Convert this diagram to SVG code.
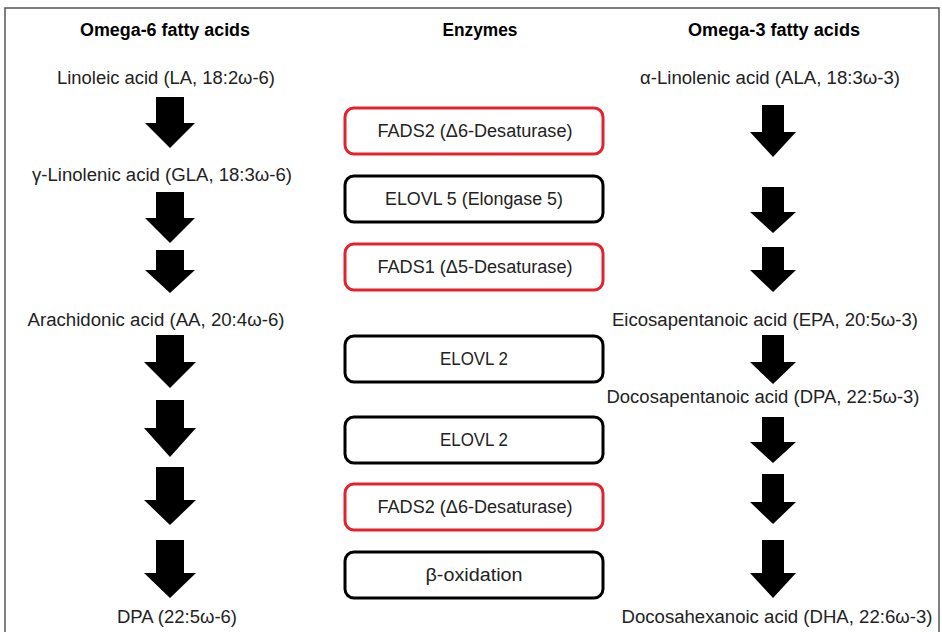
<svg xmlns="http://www.w3.org/2000/svg" width="942" height="632" viewBox="0 0 942 632">
<style>
text{font-family:"Liberation Sans",Arial,sans-serif;fill:#222;text-anchor:middle;font-size:18px}
.h{font-weight:bold;fill:#000;font-size:17.5px}
.box{fill:#fff;stroke-width:3}
.red{stroke:#e3232b}
.blk{stroke:#000}
.arr{fill:#000}
</style>
<rect x="0" y="0" width="942" height="632" fill="#fff"/>
<rect x="5" y="8" width="934" height="640" fill="none" stroke="#555" stroke-width="1.5"/>
<g id="headers">
<text class="h" x="165" y="36" textLength="170" lengthAdjust="spacingAndGlyphs">Omega-6 fatty acids</text>
<text class="h" x="480" y="36" textLength="75" lengthAdjust="spacingAndGlyphs">Enzymes</text>
<text class="h" x="774" y="36" textLength="172" lengthAdjust="spacingAndGlyphs">Omega-3 fatty acids</text>
</g>
<g id="omega6">
<g id="la"><text x="166" y="84" textLength="218" lengthAdjust="spacingAndGlyphs">Linoleic acid (LA, 18:2ω-6)</text></g>
<g id="gla"><text x="162" y="181" textLength="260" lengthAdjust="spacingAndGlyphs">γ-Linolenic acid (GLA, 18:3ω-6)</text></g>
<g id="aa"><text x="156" y="326" textLength="257" lengthAdjust="spacingAndGlyphs">Arachidonic acid (AA, 20:4ω-6)</text></g>
<g id="dpa6"><text x="177" y="623" textLength="120" lengthAdjust="spacingAndGlyphs">DPA (22:5ω-6)</text></g>
</g>
<g id="omega3">
<g id="ala"><text x="770" y="84" textLength="260" lengthAdjust="spacingAndGlyphs">α-Linolenic acid (ALA, 18:3ω-3)</text></g>
<g id="epa"><text x="765" y="326" textLength="306" lengthAdjust="spacingAndGlyphs">Eicosapentanoic acid (EPA, 20:5ω-3)</text></g>
<g id="dpa3"><text x="763" y="403" textLength="313" lengthAdjust="spacingAndGlyphs">Docosapentanoic acid (DPA, 22:5ω-3)</text></g>
<g id="dha"><text x="777" y="623" textLength="311" lengthAdjust="spacingAndGlyphs">Docosahexanoic acid (DHA, 22:6ω-3)</text></g>
</g>
<g id="enzymes">
<g id="e1"><rect class="box red" x="345" y="108" width="258" height="46" rx="9"/><text x="475" y="137" textLength="195" lengthAdjust="spacingAndGlyphs">FADS2 (Δ6-Desaturase)</text></g>
<g id="e2"><rect class="box blk" x="345" y="176" width="258" height="46" rx="9"/><text x="474" y="205" textLength="178" lengthAdjust="spacingAndGlyphs">ELOVL 5 (Elongase 5)</text></g>
<g id="e3"><rect class="box red" x="345" y="244" width="258" height="46" rx="9"/><text x="475" y="273" textLength="195" lengthAdjust="spacingAndGlyphs">FADS1 (Δ5-Desaturase)</text></g>
<g id="e4"><rect class="box blk" x="345" y="336" width="258" height="46" rx="9"/><text x="474" y="365" textLength="68" lengthAdjust="spacingAndGlyphs">ELOVL 2</text></g>
<g id="e5"><rect class="box blk" x="345" y="417" width="258" height="46" rx="9"/><text x="474" y="446" textLength="68" lengthAdjust="spacingAndGlyphs">ELOVL 2</text></g>
<g id="e6"><rect class="box red" x="345" y="484" width="258" height="46" rx="9"/><text x="475" y="513" textLength="195" lengthAdjust="spacingAndGlyphs">FADS2 (Δ6-Desaturase)</text></g>
<g id="e7"><rect class="box blk" x="345" y="552" width="258" height="46" rx="9"/><text x="474" y="581" textLength="97" lengthAdjust="spacingAndGlyphs">β-oxidation</text></g>
</g>
<g id="connectors" class="arr">
<polygon points="156,97 184,97 184,123 195,123 170,148 145,123 156,123"/>
<polygon points="156,192 184,192 184,218 195,218 170,243 145,218 156,218"/>
<polygon points="156,250 184,250 184,270 195,270 170,293 145,270 156,270"/>
<polygon points="156,335 184,335 184,362 196,362 170,388 144,362 156,362"/>
<polygon points="156,400 184,400 184,428 196,428 170,457 144,428 156,428"/>
<polygon points="156,467 184,467 184,500 196,500 170,525 144,500 156,500"/>
<polygon points="156,540 184,540 184,573 196,573 170,598 144,573 156,573"/>
<polygon points="762,105 784,105 784,132 796,132 773,157 750,132 762,132"/>
<polygon points="762,187 784,187 784,212 796,212 773,233 750,212 762,212"/>
<polygon points="762,247 784,247 784,270 796,270 773,292 750,270 762,270"/>
<polygon points="762,335 784,335 784,362 796,362 773,384 750,362 762,362"/>
<polygon points="762,417 784,417 784,442 796,442 773,463 750,442 762,442"/>
<polygon points="762,474 784,474 784,502 796,502 773,524 750,502 762,502"/>
<polygon points="762,540 784,540 784,573 796,573 773,598 750,573 762,573"/>
</g>
</svg>
